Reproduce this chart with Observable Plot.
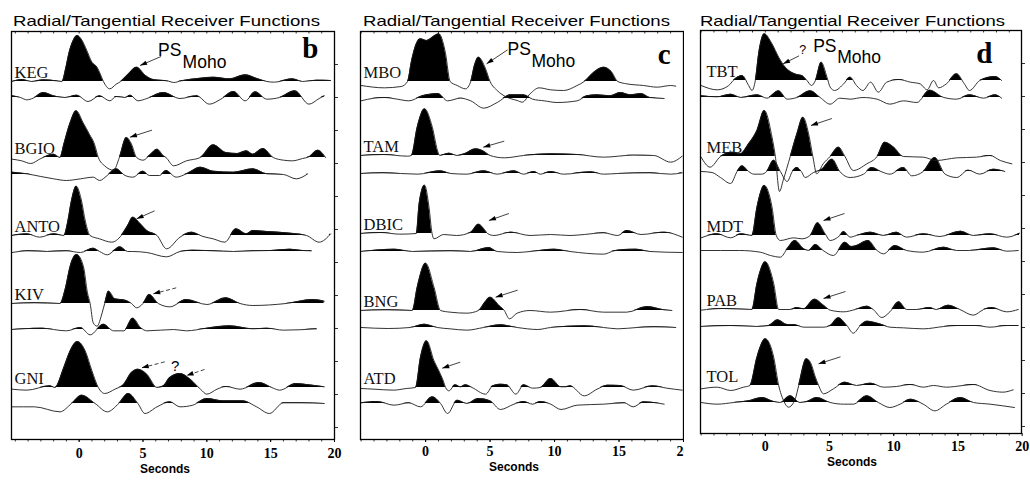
<!DOCTYPE html>
<html>
<head>
<meta charset="utf-8">
<script src="https://cdn.jsdelivr.net/npm/d3@7"></script>
<script src="https://cdn.jsdelivr.net/npm/@observablehq/plot@0.6"></script>
<style>
  html, body { margin: 0; padding: 0; background: #fff; }
  #figure { position: relative; width: 1030px; height: 482px; overflow: hidden; background: #fff; }
  .panel { position: absolute; top: 0; height: 482px; }
  .panel svg { position: absolute; top: 0; left: 0; }
</style>
</head>
<body>
<div id="figure"></div>
<script>
// Receiver functions: [time (s), amplitude] with the direct P pulse ≈ 140 units.
// *_R = radial component, *_T = tangential component.

const stationsB = ["KEG", "BGIO", "ANTO", "KIV", "GNI"];
const stationsC = ["MBO", "TAM", "DBIC", "BNG", "ATD"];
const stationsD = ["TBT", "MEB", "MDT", "PAB", "TOL"];
const secondTicks = [0, 5, 10, 15, 20];
const plotTitle = "Radial/Tangential Receiver Functions";
const mohoLabel = ["PS", "Moho"];

const KEG_R = [[-5.25,0],[-4.5,6],[-3.7,0],[-2.8,5],[-1.8,2],[-1.35,0],[-1.05,40],[-0.8,85],[-0.5,120],[-0.15,138],[0.2,125],[0.6,93],[1.0,58],[1.4,43],[1.65,23],[1.9,0],[2.4,-22],[2.9,-8],[3.25,0],[3.8,20],[4.5,43],[5.2,18],[5.8,6],[7.0,1],[7.4,-3],[8.0,2],[9.5,10],[10.5,13],[11.8,8],[13.0,20],[14.0,8],[14.7,0],[15.3,-2],[16.7,8],[17.5,0],[18.6,4],[19.7,3]];
const KEG_T = [[-5.25,5],[-4.6,0],[-4.1,-7],[-3.6,-2],[-2.8,15],[-2.0,5],[-1.1,0],[-0.2,7],[0.7,-12],[1.6,5],[2.4,-10],[2.9,3],[3.6,0],[4.0,7],[4.6,-10],[5.3,-3],[6.6,15],[7.9,-3],[9.2,5],[10.2,-20],[11.1,-5],[12.1,18],[13.0,-10],[13.8,17],[14.7,-5],[15.7,0],[16.9,20],[18.0,-20],[18.8,-3],[19.2,5]];
const BGIO_R = [[-5.25,-5],[-4.5,-10],[-3.8,-18],[-3.0,-3],[-2.0,10],[-1.5,0],[-1.2,40],[-0.7,105],[-0.23,140],[0.3,105],[0.8,70],[1.2,40],[1.5,0],[2.0,-25],[2.7,-38],[3.15,0],[3.7,60],[4.1,40],[4.5,0],[5.0,-8],[5.6,10],[6.1,25],[6.6,5],[6.8,0],[7.4,-25],[8.4,-10],[9.5,0],[10.5,38],[11.5,15],[12.4,12],[13.1,20],[13.6,10],[14.4,27],[15.2,0],[16.0,-8],[16.7,-10],[17.5,-3],[18.0,2],[18.7,22],[19.3,0]];
const BGIO_T = [[-5.25,7],[-4.1,2],[-3.0,-6],[-2.0,-13],[-1.0,-18],[0.1,-13],[1.1,-8],[1.6,-18],[2.2,-3],[2.9,17],[3.6,-3],[4.2,-8],[5.0,10],[5.5,-3],[6.3,-3],[6.8,12],[7.6,-8],[8.4,2],[9.5,22],[10.5,10],[12.1,7],[13.6,17],[14.7,2],[16.0,0],[17.0,-13],[17.9,2]];
const ANTO_R = [[-5.25,0],[-4.1,5],[-3.1,-5],[-2.0,5],[-1.2,0],[-0.9,40],[-0.6,105],[-0.23,148],[0.15,110],[0.5,40],[0.85,0],[1.6,-10],[2.55,-20],[3.3,0],[3.8,30],[4.2,55],[4.8,35],[5.3,15],[6.1,0],[6.85,-40],[7.9,-5],[8.8,10],[9.7,-3],[10.5,-10],[11.4,-20],[12.3,20],[13.1,5],[13.6,15],[14.7,12],[16.2,8],[17.8,0],[18.8,-20],[19.7,5]];
const ANTO_T = [[-5.25,-3],[-4.0,2],[-2.5,0],[-1.0,2],[0.1,-3],[1.1,10],[1.6,0],[2.2,-10],[2.8,5],[3.2,14],[3.8,0],[4.2,0],[5.3,-3],[6.85,-16],[7.9,0],[8.9,4],[10.5,2],[12.1,0],[13.6,2],[15.0,3],[16.5,7],[17.5,3],[18.2,2]];
const KIV_R = [[-5.25,0],[-3.5,2],[-1.5,0],[-1.1,42],[-0.7,112],[-0.2,147],[0.34,110],[0.65,32],[0.86,0],[1.1,-58],[1.4,-68],[1.8,-28],[2.0,0],[2.3,37],[2.8,14],[3.6,10],[4.1,0],[4.5,-13],[5.0,0],[5.5,27],[6.2,0],[7.1,-10],[8.4,12],[10.0,-3],[11.5,17],[12.6,0],[13.6,-6],[16.2,0],[18.3,12],[19.2,7]];
const KIV_T = [[-5.25,0],[-3.0,4],[-1.0,-4],[0.1,6],[0.86,-16],[1.9,16],[2.7,-4],[3.5,-4],[4.2,34],[4.8,6],[5.3,-4],[7.4,0],[8.4,-4],[10.0,4],[11.8,11],[13.6,2],[14.7,4],[16.0,-2],[18.6,2]];
const GNI_R = [[-5.25,-5],[-4.1,-8],[-2.3,5],[-1.9,0],[-1.2,60],[-0.7,110],[-0.13,138],[0.47,110],[1.0,50],[1.5,0],[2.0,-18],[2.8,-5],[3.5,10],[4.1,45],[4.6,55],[5.3,40],[6.1,0],[6.6,5],[7.1,30],[7.9,42],[8.7,25],[9.5,-5],[10.0,-20],[10.8,-5],[11.5,3],[12.6,-5],[14.1,15],[15.2,-2],[15.7,-8],[17.0,12],[18.0,8],[19.2,2]];
const GNI_T = [[-5.25,-10],[-3.5,-10],[-1.5,-25],[-0.6,0],[0.2,25],[1.25,0],[2.2,-25],[3.1,0],[3.85,30],[4.6,0],[5.15,-30],[6.1,-10],[7.1,5],[7.9,-10],[8.9,-5],[10.0,15],[11.3,8],[12.8,8],[13.9,-10],[14.9,-30],[16.0,2],[17.3,2],[19.2,0]];

const MBO_R = [[-5.0,-12],[-3.2,-19],[-1.9,-15],[-1.4,0],[-1.1,60],[-0.7,115],[-0.4,128],[0.08,123],[0.6,135],[1.03,143],[1.4,110],[1.55,83],[1.9,0],[2.45,-12],[3.1,-22],[3.5,0],[3.8,50],[4.1,73],[4.65,38],[5.0,0],[5.55,-27],[6.3,-47],[7.1,-57],[7.5,-62],[8.1,-37],[8.8,-19],[9.7,-25],[10.7,-27],[11.75,-12],[12.3,0],[13.05,28],[13.8,43],[14.4,30],[14.9,0],[15.6,-7],[16.9,-12],[17.96,-17],[19.0,-12],[19.4,-14]];
const MBO_T = [[-5.0,-7],[-4.0,1],[-3.2,3],[-2.2,-2],[-1.3,-7],[-0.26,8],[0.96,15],[1.7,-7],[2.7,1],[3.5,-7],[4.5,-29],[5.55,-12],[6.6,11],[7.6,11],[8.3,-2],[9.2,-7],[10.2,-12],[11.75,-7],[12.5,8],[13.3,11],[14.3,8],[15.1,18],[15.9,11],[16.7,15],[17.4,3],[18.5,0]];
const TAM_R = [[-5.0,0],[-3.3,3],[-1.4,-2],[-1.1,0],[-0.65,85],[-0.08,140],[0.52,85],[0.96,10],[1.1,0],[1.4,3],[1.8,7],[2.45,0],[3.0,5],[3.9,20],[4.5,13],[5.0,0],[6.1,-7],[7.6,0],[9.7,5],[11.75,3],[13.8,-5],[16.1,1],[17.7,0],[19.0,-20],[19.9,-2]];
const TAM_T = [[-5.0,0],[-3.3,2],[-0.6,-2],[1.15,8],[1.95,0],[3.2,-2],[4.5,8],[5.55,-2],[6.85,8],[7.6,-2],[8.4,6],[8.9,-2],[9.7,6],[10.7,-2],[12.8,5],[13.8,-2],[14.9,0],[17.4,2],[19.0,-2],[19.9,2]];
const DBIC_R = [[-5.0,0],[-3.5,3],[-2.0,-2],[-0.72,0],[-0.5,90],[-0.08,145],[0.26,80],[0.5,0],[0.65,-16],[1.4,-3],[2.4,-6],[3.5,4],[4.1,28],[4.6,10],[4.8,0],[5.3,-6],[6.6,4],[8.1,-6],[9.7,-3],[11.2,-6],[12.3,-3],[13.8,2],[14.9,-6],[15.6,9],[16.7,-3],[18.5,4],[19.9,-11]];
const DBIC_T = [[-5.0,0],[-2.45,7],[-1.0,0],[1.95,2],[3.5,0],[4.9,12],[5.55,0],[7.1,-3],[8.1,0],[9.95,7],[11.2,0],[13.8,-8],[14.6,2],[15.4,6],[16.3,7],[17.4,0],[19.9,-3]];
const BNG_R = [[-5.0,0],[-3.0,2],[-1.03,0],[-0.65,70],[0.0,142],[0.65,70],[1.16,0],[1.9,-5],[3.2,-8],[4.1,0],[4.6,25],[5.0,40],[5.7,15],[6.1,0],[6.5,-25],[7.1,-8],[8.1,0],[9.7,-5],[12.0,3],[13.8,-5],[15.6,-5],[17.2,12],[18.5,2],[19.1,0]];
const BNG_T = [[-5.0,0],[-2.9,-3],[-1.2,0],[-0.1,10],[0.9,0],[1.9,-4],[3.2,-8],[4.5,0],[5.8,8],[7.1,0],[8.7,-6],[9.7,0],[12.3,5],[13.8,0],[14.9,-4],[16.4,0],[17.7,2],[19.4,0]];
const ATD_R = [[-5.0,-3],[-4.0,-5],[-2.5,-8],[-1.5,-3],[-0.78,0],[-0.4,90],[0.08,140],[0.65,80],[1.03,50],[1.37,20],[1.55,0],[1.8,-10],[2.3,8],[2.7,2],[3.1,8],[3.6,0],[4.65,-20],[5.2,5],[5.8,10],[6.3,8],[7.0,-20],[7.6,8],[8.3,-2],[8.9,0],[9.7,27],[10.5,2],[10.85,2],[11.2,5],[12.3,-25],[13.3,-5],[14.1,7],[15.1,6],[16.1,-8],[17.6,5],[18.7,-2],[19.9,-8]];
const ATD_T = [[-5.0,2],[-3.75,6],[-2.45,-5],[-1.3,2],[-0.4,-10],[0.52,20],[1.16,0],[1.7,-30],[2.45,10],[3.2,0],[4.1,15],[5.0,8],[5.8,-18],[6.85,-2],[7.6,6],[8.3,-2],[8.9,6],[9.7,-2],[10.5,-18],[11.75,-5],[13.8,-2],[15.4,2],[16.1,-10],[16.9,5],[18.5,-2]];

const TBT_R = [[-5.0,-15],[-3.75,-28],[-2.85,-15],[-2.5,0],[-1.8,15],[-1.3,-15],[-1.04,-30],[-0.78,0],[-0.52,80],[-0.08,140],[0.52,110],[1.04,70],[1.55,40],[1.94,27],[2.46,18],[2.85,15],[3.24,0],[3.6,-15],[3.9,0],[4.35,55],[4.8,10],[5.05,-20],[5.4,-30],[6.1,-10],[6.6,10],[7.1,-15],[7.6,-30],[8.2,-5],[8.8,-35],[9.45,-5],[10.4,3],[11.3,-5],[12.05,-10],[12.6,-28],[13.1,0],[13.5,-22],[14.1,-10],[14.9,20],[15.5,-10],[15.9,-30],[16.7,0],[17.9,12],[18.4,0]];
const TBT_T = [[-5.0,5],[-3.75,2],[-2.7,10],[-1.9,0],[-0.65,8],[0.13,-2],[1.04,20],[1.7,-5],[2.46,0],[3.5,20],[4.27,0],[5.05,-20],[5.8,-2],[6.6,-5],[7.6,0],[8.7,-5],[9.7,-20],[10.75,-10],[11.8,-15],[12.8,22],[13.9,0],[14.9,-5],[15.9,8],[17.0,-2],[17.9,8],[18.4,-2]];
const MEB_R = [[-5.0,-2],[-4.3,-32],[-3.5,0],[-2.6,13],[-1.95,8],[-1.3,38],[-0.65,78],[-0.08,138],[0.52,58],[0.78,0],[1.1,-105],[1.4,-70],[1.94,0],[2.46,68],[2.93,118],[3.37,68],[3.7,0],[4.0,-52],[4.5,-22],[5.05,0],[5.7,28],[6.2,0],[6.85,-42],[7.9,-22],[8.7,0],[9.3,43],[10.0,28],[10.75,0],[12.3,-2],[13.3,-12],[14.9,-4],[16.45,-2],[17.5,3],[18.3,-12],[19.2,-22]];
const MEB_T = [[-5.0,0],[-4.15,-3],[-3.5,-18],[-2.7,-36],[-2.2,0],[-1.8,17],[-1.3,0],[-0.9,-8],[-0.3,-8],[0.1,0],[0.65,34],[1.17,0],[1.7,-30],[2.1,0],[2.46,12],[2.8,0],[3.1,-18],[3.75,-3],[4.4,7],[5.2,37],[5.8,0],[6.6,-18],[7.65,-8],[8.3,12],[9.0,0],[9.7,-8],[10.75,12],[11.4,-13],[12.3,0],[13.2,42],[14.0,-8],[14.9,-18],[15.8,4],[16.7,-8],[17.75,7],[18.65,0]];
const MDT_R = [[-5.0,-7],[-3.75,5],[-2.7,-7],[-1.9,5],[-1.04,0],[-0.65,85],[-0.08,150],[0.52,85],[0.85,0],[1.17,-15],[2.2,-7],[2.85,-10],[3.5,0],[4.07,38],[4.66,5],[5.05,-15],[5.8,0],[6.1,12],[6.6,-5],[7.1,0],[8.2,10],[9.2,0],[10.2,10],[11.0,-5],[12.3,5],[13.6,-3],[15.2,13],[16.2,0],[17.5,5],[18.8,-5],[19.8,7]];
const MDT_T = [[-5.0,0],[-2.0,0],[-0.4,-5],[0.4,-15],[1.17,-20],[1.7,5],[2.3,30],[3.0,5],[3.37,0],[3.9,18],[4.5,0],[5.3,-15],[6.2,25],[6.7,12],[7.1,15],[8.0,30],[8.7,0],[9.2,-10],[10.1,15],[11.0,0],[12.3,-5],[13.9,10],[14.9,0],[15.9,0],[17.75,8],[18.8,-2],[19.7,0]];
const PAB_R = [[-5.0,-2],[-3.3,3],[-1.04,0],[-0.65,78],[0.0,143],[0.65,78],[1.04,0],[1.94,0],[2.46,6],[2.98,2],[3.83,31],[4.53,13],[5.05,-2],[6.1,-7],[7.0,0],[7.9,10],[8.4,0],[9.07,-24],[9.7,-7],[10.4,23],[11.0,0],[11.8,0],[12.8,6],[13.3,0],[14.25,13],[15.15,0],[16.2,-17],[17.0,0],[17.6,6],[18.8,-7],[19.7,0]];
const PAB_T = [[-5.0,0],[-2.7,3],[-0.65,0],[0.26,3],[0.96,20],[1.7,6],[2.2,6],[3.0,-2],[4.5,-2],[5.05,3],[5.7,26],[6.35,3],[6.85,-20],[7.4,3],[7.9,16],[8.9,8],[9.7,-2],[10.75,-4],[12.3,-7],[13.9,0],[14.9,3],[16.4,3],[17.5,-2],[18.8,3],[19.7,3]];
const TOL_R = [[-5.0,-10],[-3.75,-5],[-2.7,-15],[-1.7,-5],[-1.2,0],[-0.65,85],[0.0,140],[0.65,85],[1.04,0],[1.42,-45],[1.8,-65],[2.33,-40],[2.6,0],[3.19,80],[3.5,70],[3.9,25],[4.15,0],[4.53,-25],[5.3,-10],[6.2,10],[7.1,0],[8.2,7],[9.2,-5],[10.2,-3],[11.3,3],[12.3,-5],[13.1,0],[14.1,-5],[15.4,0],[16.2,3],[17.5,-15],[18.5,-20],[19.3,-13]];
const TOL_T = [[-5.0,0],[-3.75,-5],[-2.46,0],[-1.3,5],[-0.26,15],[0.65,3],[1.17,0],[1.94,20],[2.7,0],[3.24,3],[4.0,15],[5.05,0],[6.1,-5],[6.85,-5],[7.9,20],[8.8,0],[9.7,-15],[10.5,-5],[11.3,10],[12.3,-5],[13.2,-25],[14.1,-5],[15.2,15],[16.2,0],[17.5,-5],[19.4,-15]];

// Lookup used when building the marks: station -> [radial, tangential]
const traceTable = {
  KEG: [KEG_R, KEG_T], BGIO: [BGIO_R, BGIO_T], ANTO: [ANTO_R, ANTO_T], KIV: [KIV_R, KIV_T], GNI: [GNI_R, GNI_T],
  MBO: [MBO_R, MBO_T], TAM: [TAM_R, TAM_T], DBIC: [DBIC_R, DBIC_T], BNG: [BNG_R, BNG_T], ATD: [ATD_R, ATD_T],
  TBT: [TBT_R, TBT_T], MEB: [MEB_R, MEB_T], MDT: [MDT_R, MDT_T], PAB: [PAB_R, PAB_T], TOL: [TOL_R, TOL_T]
};

// Arrows to the converted phase: tip at (t, amp) on the radial trace; tail offset in px.
const arrowsB = [
  {station: "KEG", t: 4.77, amp: 48, dx: 21, dy: -9, dashed: false},
  {station: "BGIO", t: 3.98, amp: 61, dx: 22, dy: -7, dashed: false},
  {station: "ANTO", t: 4.5, amp: 50, dx: 18, dy: -8, dashed: false},
  {station: "KIV", t: 5.8, amp: 29, dx: 23, dy: -6, dashed: true},
  {station: "GNI", t: 4.9, amp: 59, dx: 23, dy: -6, dashed: true},
  {station: "GNI", t: 8.41, amp: 36, dx: 18, dy: -6, dashed: true}
];
const arrowsC = [
  {station: "MBO", t: 4.73, amp: 53, dx: 21, dy: -14, dashed: false},
  {station: "TAM", t: 4.47, amp: 25, dx: 21, dy: -6, dashed: false},
  {station: "DBIC", t: 4.91, amp: 39, dx: 20, dy: -7, dashed: false},
  {station: "BNG", t: 5.43, amp: 40, dx: 22, dy: -7, dashed: false},
  {station: "ATD", t: 1.29, amp: 58, dx: 18, dy: -6, dashed: false}
];
const arrowsD = [
  {station: "TBT", t: 1.38, amp: 50, dx: 16, dy: -8, dashed: false},
  {station: "MEB", t: 3.55, amp: 93, dx: 21, dy: -7, dashed: false},
  {station: "MDT", t: 4.53, amp: 45, dx: 21, dy: -7, dashed: false},
  {station: "PAB", t: 4.53, amp: 33, dx: 22, dy: -7, dashed: false},
  {station: "TOL", t: 4.14, amp: 65, dx: 22, dy: -7, dashed: false}
];

// Text notes anchored on a radial peak (t, amp), offset in px.
const notesB = [
  {station: "KEG", t: 4.5, amp: 43, text: mohoLabel[0], dx: 21.5, dy: -11, size: 17.5},
  {station: "KEG", t: 4.5, amp: 43, text: mohoLabel[1], dx: 46, dy: 1.3, size: 17.5},
  {station: "GNI", t: 7.9, amp: 42, text: "?", dx: -9, dy: -3, size: 15}
];
const notesC = [
  {station: "MBO", t: 4.1, amp: 73, text: mohoLabel[0], dx: 29, dy: -1.7, size: 17.5},
  {station: "MBO", t: 4.1, amp: 73, text: mohoLabel[1], dx: 53, dy: 10, size: 17.5}
];
const notesD = [
  {station: "TBT", t: 4.35, amp: 55, text: mohoLabel[0], dx: -8, dy: -10, size: 17.5},
  {station: "TBT", t: 4.35, amp: 55, text: mohoLabel[1], dx: 16, dy: 1.3, size: 17.5},
  {station: "TBT", t: 4.35, amp: 55, text: "?", dx: -22, dy: -8.5, size: 12.5}
];

const SANS = "Liberation Sans, Arial, Helvetica, sans-serif";
const SERIF = "Liberation Serif, Times New Roman, Times, serif";
const gain = 1 / 3; // amplitude units -> px of offset

const panels = [
  {letter: "b", stations: stationsB, arrows: arrowsB, notes: notesB, left: 0, width: 345, bg: false,
   margin: {top: 31, right: 11, bottom: 43, left: 11}, domain: [-5.3, 20],
   radialBase: [50, 126, 204, 272, 356], tangentialBase: [66, 143, 220, 298, 372],
   letterDx: -16, letterDy: 26, labelDx: 3, tickPad: 6, secDx: -8, secDy: 30, titleX: 13, titleW: 307},
  {letter: "c", stations: stationsC, arrows: arrowsC, notes: notesC, left: 345, width: 340, bg: false,
   margin: {top: 31, right: 2, bottom: 43, left: 15}, domain: [-5.05, 20],
   radialBase: [50, 124, 202, 279, 356], tangentialBase: [67, 142, 220, 296, 372],
   letterDx: -13, letterDy: 32, labelDx: 3, tickPad: 4, secDx: -8, secDy: 28, titleX: 18, titleW: 307},
  {letter: "d", stations: stationsD, arrows: arrowsD, notes: notesD, left: 684, width: 346, bg: true,
   margin: {top: 30, right: 9, bottom: 49, left: 16}, domain: [-5.05, 19.95],
   radialBase: [50, 126, 205, 279, 355], tangentialBase: [67, 141, 220, 296, 372],
   letterDx: -29, letterDy: 32, labelDx: 6, tickPad: 5, secDx: -9, secDy: 29, titleX: 16, titleW: 305}
];

// One trace: black fill where the amplitude is positive, thin line throughout.
function traceMarks(points, base) {
  const rows = points.map(([t, a]) => ({t, y: a * gain - base, y0: -base}));
  if (typeof Plot.differenceY === "function") {
    return Plot.differenceY(rows, {
      x: "t", y1: "y0", y2: "y", curve: "monotone-x",
      positiveFill: "#000", negativeFill: "none", fillOpacity: 1,
      positiveFillOpacity: 1, negativeFillOpacity: 0,
      stroke: "#1c1c1c", strokeWidth: 0.9
    });
  }
  return [
    Plot.areaY(rows, {x: "t", y1: "y0", y2: d => Math.max(d.y, d.y0), fill: "#000", curve: "monotone-x"}),
    Plot.line(rows, {x: "t", y: "y", stroke: "#1c1c1c", strokeWidth: 0.9, curve: "monotone-x"})
  ];
}

function buildPanel(p) {
  const frameH = 482 - p.margin.top - p.margin.bottom;
  const frameW = p.width - p.margin.left - p.margin.right;
  const pxPerSec = frameW / (p.domain[1] - p.domain[0]);
  const baseOf = s => p.radialBase[p.stations.indexOf(s)];
  const tipY = d => d.amp * gain - baseOf(d.station);

  const marks = [];
  p.stations.forEach((s, i) => {
    const [radial, tangential] = traceTable[s];
    marks.push(traceMarks(tangential, p.tangentialBase[i]));
    marks.push(traceMarks(radial, p.radialBase[i]));
  });

  const minor = d3.range(Math.ceil(p.domain[0]), Math.floor(p.domain[1]) + 1);
  marks.push(
    Plot.ruleX(minor, {x: d => d, stroke: "#000", strokeWidth: 0.8, insetBottom: frameH - 2.5}),
    Plot.axisX({anchor: "bottom", ticks: minor, tickSize: 2.5, tickFormat: () => "", label: null, strokeWidth: 0.8}),
    Plot.axisX({anchor: "bottom", ticks: secondTicks, tickSize: 3, tickPadding: p.tickPad, label: null,
      tickFormat: d => String(d), fontSize: 14, fontWeight: "bold", fontFamily: SERIF, fill: "#000"}),
    Plot.axisY({anchor: "right", ticks: d3.range(33, frameH, 33).map(v => -v), tickSize: 3,
      tickFormat: () => "", label: null, strokeWidth: 0.8}),
    Plot.frame({stroke: "#000", strokeWidth: 1.3}),
    Plot.text(["Seconds"], {frameAnchor: "bottom", text: d => d, dx: p.secDx, dy: p.secDy, lineAnchor: "middle",
      fontFamily: SANS, fontWeight: "bold", fontSize: 12, fill: "#000"}),
    Plot.text([p.letter], {frameAnchor: "top-right", text: d => d, dx: p.letterDx, dy: p.letterDy,
      textAnchor: "end", lineAnchor: "bottom", fontFamily: SERIF, fontWeight: "bold", fontSize: 29, fill: "#000"}),
    Plot.text(p.stations, {frameAnchor: "left", y: s => -baseOf(s), text: s => s, dx: p.labelDx, dy: -4,
      textAnchor: "start", lineAnchor: "bottom", fontFamily: SERIF, fontSize: 16.5, fill: "#111"})
  );

  // arrows: shaft + filled head
  const tail = d => ({x: d.t + d.dx / pxPerSec, y: tipY(d) - d.dy});
  for (const dashed of [false, true]) {
    const sel = p.arrows.filter(d => d.dashed === dashed);
    if (!sel.length) continue;
    marks.push(Plot.link(sel, {
      x1: d => tail(d).x, y1: d => tail(d).y, x2: "t", y2: tipY,
      stroke: "#111", strokeWidth: 0.8, strokeDasharray: dashed ? "4,2.5" : null
    }));
  }
  marks.push(Plot.vector(p.arrows, {
    x: "t", y: tipY, length: 7, r: 2.3, shape: "spike", anchor: "end",
    rotate: d => Math.atan2(-d.dx, d.dy) * 180 / Math.PI, fill: "#000", stroke: "none"
  }));

  for (const n of p.notes) {
    marks.push(Plot.text([n], {x: "t", y: tipY, text: "text", dx: n.dx, dy: n.dy,
      textAnchor: "start", lineAnchor: "bottom", fontFamily: SANS, fontSize: n.size, fill: "#000"}));
  }

  return Plot.plot({
    width: p.width, height: 482,
    marginTop: p.margin.top, marginRight: p.margin.right, marginBottom: p.margin.bottom, marginLeft: p.margin.left,
    x: {domain: p.domain},
    y: {domain: [-frameH, 0]},
    style: {background: "transparent", overflow: "visible"},
    marks
  });
}

const figure = document.getElementById("figure");
for (const p of panels) {
  const div = document.createElement("div");
  div.className = "panel";
  div.style.left = p.left + "px";
  div.style.width = p.width + "px";
  if (p.bg) div.style.background = "#fff";
  figure.appendChild(div);
  div.appendChild(buildPanel(p));

  const head = d3.create("svg").attr("width", p.width).attr("height", 31);
  head.append("text")
    .attr("x", p.titleX).attr("y", 25.5)
    .attr("font-family", SANS).attr("font-size", 14.5).attr("fill", "#000")
    .attr("textLength", p.titleW).attr("lengthAdjust", "spacingAndGlyphs")
    .text(plotTitle);
  div.appendChild(head.node());
}
</script>
</body>
</html>
